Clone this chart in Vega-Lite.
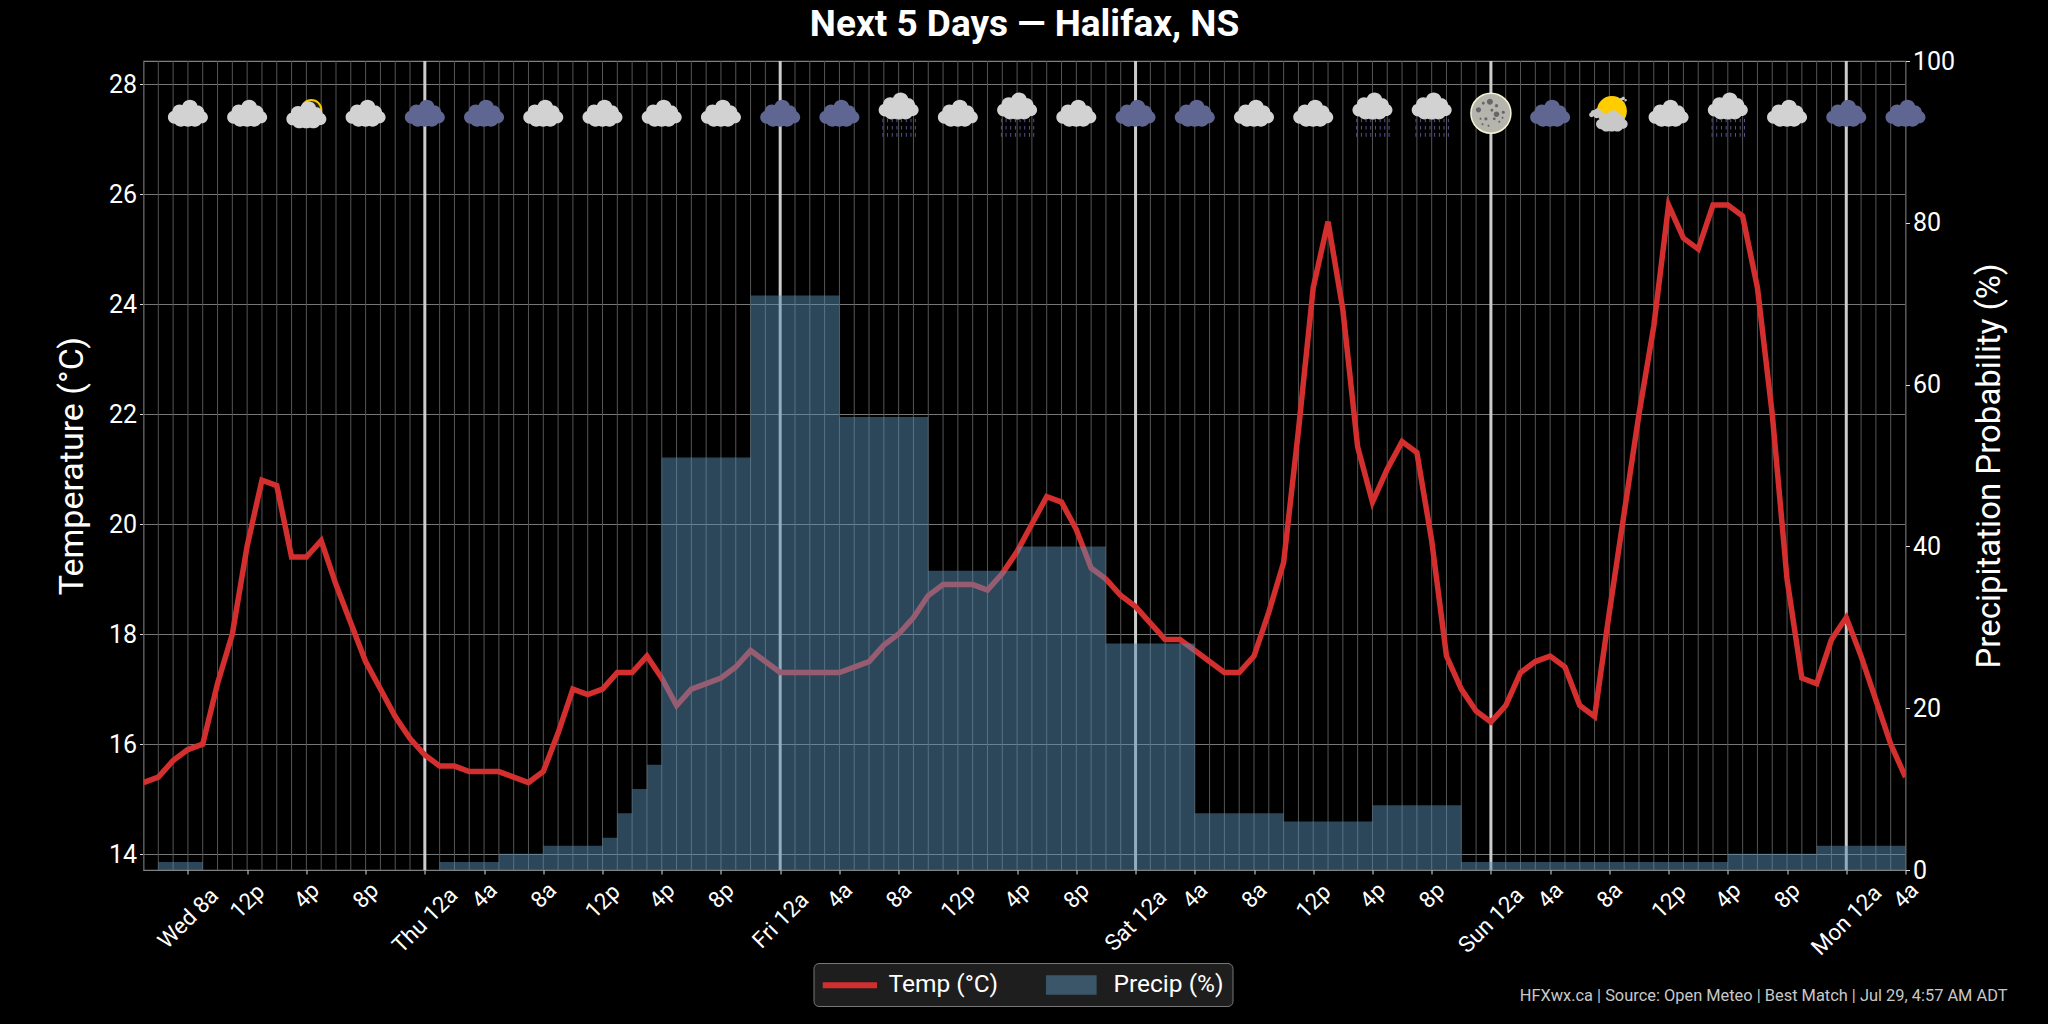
{
  "$schema": "https://vega.github.io/schema/vega-lite/v6.json",
  "description": "Five day hourly temperature and precipitation probability for Halifax, NS.",
  "autosize": {"type": "none"},
  "padding": {"left": 143.5, "top": 61, "right": 142.5, "bottom": 154},
  "width": 1762,
  "height": 809,
  "background": "#000000",
  "title": {"text": "Next 5 Days — Halifax, NS", "font": "Roboto", "fontSize": 37, "fontWeight": "bold", "color": "#ffffff", "anchor": "middle", "offset": 5},
  "datasets": {
    "hours": [
      {"t":"2026-07-29T05:00:00Z","temp":15.3,"precip":0},
      {"t":"2026-07-29T06:00:00Z","temp":15.4,"precip":1},
      {"t":"2026-07-29T07:00:00Z","temp":15.7,"precip":1},
      {"t":"2026-07-29T08:00:00Z","temp":15.9,"precip":1},
      {"t":"2026-07-29T09:00:00Z","temp":16.0,"precip":0},
      {"t":"2026-07-29T10:00:00Z","temp":17.1,"precip":0},
      {"t":"2026-07-29T11:00:00Z","temp":18.0,"precip":0},
      {"t":"2026-07-29T12:00:00Z","temp":19.6,"precip":0},
      {"t":"2026-07-29T13:00:00Z","temp":20.8,"precip":0},
      {"t":"2026-07-29T14:00:00Z","temp":20.7,"precip":0},
      {"t":"2026-07-29T15:00:00Z","temp":19.4,"precip":0},
      {"t":"2026-07-29T16:00:00Z","temp":19.4,"precip":0},
      {"t":"2026-07-29T17:00:00Z","temp":19.7,"precip":0},
      {"t":"2026-07-29T18:00:00Z","temp":18.9,"precip":0},
      {"t":"2026-07-29T19:00:00Z","temp":18.2,"precip":0},
      {"t":"2026-07-29T20:00:00Z","temp":17.5,"precip":0},
      {"t":"2026-07-29T21:00:00Z","temp":17.0,"precip":0},
      {"t":"2026-07-29T22:00:00Z","temp":16.5,"precip":0},
      {"t":"2026-07-29T23:00:00Z","temp":16.1,"precip":0},
      {"t":"2026-07-30T00:00:00Z","temp":15.8,"precip":0},
      {"t":"2026-07-30T01:00:00Z","temp":15.6,"precip":1},
      {"t":"2026-07-30T02:00:00Z","temp":15.6,"precip":1},
      {"t":"2026-07-30T03:00:00Z","temp":15.5,"precip":1},
      {"t":"2026-07-30T04:00:00Z","temp":15.5,"precip":1},
      {"t":"2026-07-30T05:00:00Z","temp":15.5,"precip":2},
      {"t":"2026-07-30T06:00:00Z","temp":15.4,"precip":2},
      {"t":"2026-07-30T07:00:00Z","temp":15.3,"precip":2},
      {"t":"2026-07-30T08:00:00Z","temp":15.5,"precip":3},
      {"t":"2026-07-30T09:00:00Z","temp":16.2,"precip":3},
      {"t":"2026-07-30T10:00:00Z","temp":17.0,"precip":3},
      {"t":"2026-07-30T11:00:00Z","temp":16.9,"precip":3},
      {"t":"2026-07-30T12:00:00Z","temp":17.0,"precip":4},
      {"t":"2026-07-30T13:00:00Z","temp":17.3,"precip":7},
      {"t":"2026-07-30T14:00:00Z","temp":17.3,"precip":10},
      {"t":"2026-07-30T15:00:00Z","temp":17.6,"precip":13},
      {"t":"2026-07-30T16:00:00Z","temp":17.2,"precip":51},
      {"t":"2026-07-30T17:00:00Z","temp":16.7,"precip":51},
      {"t":"2026-07-30T18:00:00Z","temp":17.0,"precip":51},
      {"t":"2026-07-30T19:00:00Z","temp":17.1,"precip":51},
      {"t":"2026-07-30T20:00:00Z","temp":17.2,"precip":51},
      {"t":"2026-07-30T21:00:00Z","temp":17.4,"precip":51},
      {"t":"2026-07-30T22:00:00Z","temp":17.7,"precip":71},
      {"t":"2026-07-30T23:00:00Z","temp":17.5,"precip":71},
      {"t":"2026-07-31T00:00:00Z","temp":17.3,"precip":71},
      {"t":"2026-07-31T01:00:00Z","temp":17.3,"precip":71},
      {"t":"2026-07-31T02:00:00Z","temp":17.3,"precip":71},
      {"t":"2026-07-31T03:00:00Z","temp":17.3,"precip":71},
      {"t":"2026-07-31T04:00:00Z","temp":17.3,"precip":56},
      {"t":"2026-07-31T05:00:00Z","temp":17.4,"precip":56},
      {"t":"2026-07-31T06:00:00Z","temp":17.5,"precip":56},
      {"t":"2026-07-31T07:00:00Z","temp":17.8,"precip":56},
      {"t":"2026-07-31T08:00:00Z","temp":18.0,"precip":56},
      {"t":"2026-07-31T09:00:00Z","temp":18.3,"precip":56},
      {"t":"2026-07-31T10:00:00Z","temp":18.7,"precip":37},
      {"t":"2026-07-31T11:00:00Z","temp":18.9,"precip":37},
      {"t":"2026-07-31T12:00:00Z","temp":18.9,"precip":37},
      {"t":"2026-07-31T13:00:00Z","temp":18.9,"precip":37},
      {"t":"2026-07-31T14:00:00Z","temp":18.8,"precip":37},
      {"t":"2026-07-31T15:00:00Z","temp":19.1,"precip":37},
      {"t":"2026-07-31T16:00:00Z","temp":19.5,"precip":40},
      {"t":"2026-07-31T17:00:00Z","temp":20.0,"precip":40},
      {"t":"2026-07-31T18:00:00Z","temp":20.5,"precip":40},
      {"t":"2026-07-31T19:00:00Z","temp":20.4,"precip":40},
      {"t":"2026-07-31T20:00:00Z","temp":19.9,"precip":40},
      {"t":"2026-07-31T21:00:00Z","temp":19.2,"precip":40},
      {"t":"2026-07-31T22:00:00Z","temp":19.0,"precip":28},
      {"t":"2026-07-31T23:00:00Z","temp":18.7,"precip":28},
      {"t":"2026-08-01T00:00:00Z","temp":18.5,"precip":28},
      {"t":"2026-08-01T01:00:00Z","temp":18.2,"precip":28},
      {"t":"2026-08-01T02:00:00Z","temp":17.9,"precip":28},
      {"t":"2026-08-01T03:00:00Z","temp":17.9,"precip":28},
      {"t":"2026-08-01T04:00:00Z","temp":17.7,"precip":7},
      {"t":"2026-08-01T05:00:00Z","temp":17.5,"precip":7},
      {"t":"2026-08-01T06:00:00Z","temp":17.3,"precip":7},
      {"t":"2026-08-01T07:00:00Z","temp":17.3,"precip":7},
      {"t":"2026-08-01T08:00:00Z","temp":17.6,"precip":7},
      {"t":"2026-08-01T09:00:00Z","temp":18.4,"precip":7},
      {"t":"2026-08-01T10:00:00Z","temp":19.3,"precip":6},
      {"t":"2026-08-01T11:00:00Z","temp":21.7,"precip":6},
      {"t":"2026-08-01T12:00:00Z","temp":24.3,"precip":6},
      {"t":"2026-08-01T13:00:00Z","temp":25.5,"precip":6},
      {"t":"2026-08-01T14:00:00Z","temp":23.9,"precip":6},
      {"t":"2026-08-01T15:00:00Z","temp":21.4,"precip":6},
      {"t":"2026-08-01T16:00:00Z","temp":20.4,"precip":8},
      {"t":"2026-08-01T17:00:00Z","temp":21.0,"precip":8},
      {"t":"2026-08-01T18:00:00Z","temp":21.5,"precip":8},
      {"t":"2026-08-01T19:00:00Z","temp":21.3,"precip":8},
      {"t":"2026-08-01T20:00:00Z","temp":19.7,"precip":8},
      {"t":"2026-08-01T21:00:00Z","temp":17.6,"precip":8},
      {"t":"2026-08-01T22:00:00Z","temp":17.0,"precip":1},
      {"t":"2026-08-01T23:00:00Z","temp":16.6,"precip":1},
      {"t":"2026-08-02T00:00:00Z","temp":16.4,"precip":1},
      {"t":"2026-08-02T01:00:00Z","temp":16.7,"precip":1},
      {"t":"2026-08-02T02:00:00Z","temp":17.3,"precip":1},
      {"t":"2026-08-02T03:00:00Z","temp":17.5,"precip":1},
      {"t":"2026-08-02T04:00:00Z","temp":17.6,"precip":1},
      {"t":"2026-08-02T05:00:00Z","temp":17.4,"precip":1},
      {"t":"2026-08-02T06:00:00Z","temp":16.7,"precip":1},
      {"t":"2026-08-02T07:00:00Z","temp":16.5,"precip":1},
      {"t":"2026-08-02T08:00:00Z","temp":18.4,"precip":1},
      {"t":"2026-08-02T09:00:00Z","temp":20.2,"precip":1},
      {"t":"2026-08-02T10:00:00Z","temp":22.0,"precip":1},
      {"t":"2026-08-02T11:00:00Z","temp":23.6,"precip":1},
      {"t":"2026-08-02T12:00:00Z","temp":25.8,"precip":1},
      {"t":"2026-08-02T13:00:00Z","temp":25.2,"precip":1},
      {"t":"2026-08-02T14:00:00Z","temp":25.0,"precip":1},
      {"t":"2026-08-02T15:00:00Z","temp":25.8,"precip":1},
      {"t":"2026-08-02T16:00:00Z","temp":25.8,"precip":2},
      {"t":"2026-08-02T17:00:00Z","temp":25.6,"precip":2},
      {"t":"2026-08-02T18:00:00Z","temp":24.3,"precip":2},
      {"t":"2026-08-02T19:00:00Z","temp":22.0,"precip":2},
      {"t":"2026-08-02T20:00:00Z","temp":19.0,"precip":2},
      {"t":"2026-08-02T21:00:00Z","temp":17.2,"precip":2},
      {"t":"2026-08-02T22:00:00Z","temp":17.1,"precip":3},
      {"t":"2026-08-02T23:00:00Z","temp":17.9,"precip":3},
      {"t":"2026-08-03T00:00:00Z","temp":18.3,"precip":3},
      {"t":"2026-08-03T01:00:00Z","temp":17.6,"precip":3},
      {"t":"2026-08-03T02:00:00Z","temp":16.8,"precip":3},
      {"t":"2026-08-03T03:00:00Z","temp":16.0,"precip":3},
      {"t":"2026-08-03T04:00:00Z","temp":15.4,"precip":3}
    ],
    "icons": [
      {"t":"2026-07-29T08:00:00Z","kind":"cloud"},
      {"t":"2026-07-29T12:00:00Z","kind":"cloud"},
      {"t":"2026-07-29T16:00:00Z","kind":"partly"},
      {"t":"2026-07-29T20:00:00Z","kind":"cloud"},
      {"t":"2026-07-30T00:00:00Z","kind":"night"},
      {"t":"2026-07-30T04:00:00Z","kind":"night"},
      {"t":"2026-07-30T08:00:00Z","kind":"cloud"},
      {"t":"2026-07-30T12:00:00Z","kind":"cloud"},
      {"t":"2026-07-30T16:00:00Z","kind":"cloud"},
      {"t":"2026-07-30T20:00:00Z","kind":"cloud"},
      {"t":"2026-07-31T00:00:00Z","kind":"night"},
      {"t":"2026-07-31T04:00:00Z","kind":"night"},
      {"t":"2026-07-31T08:00:00Z","kind":"rain"},
      {"t":"2026-07-31T12:00:00Z","kind":"cloud"},
      {"t":"2026-07-31T16:00:00Z","kind":"rain"},
      {"t":"2026-07-31T20:00:00Z","kind":"cloud"},
      {"t":"2026-08-01T00:00:00Z","kind":"night"},
      {"t":"2026-08-01T04:00:00Z","kind":"night"},
      {"t":"2026-08-01T08:00:00Z","kind":"cloud"},
      {"t":"2026-08-01T12:00:00Z","kind":"cloud"},
      {"t":"2026-08-01T16:00:00Z","kind":"rain"},
      {"t":"2026-08-01T20:00:00Z","kind":"rain"},
      {"t":"2026-08-02T00:00:00Z","kind":"moon"},
      {"t":"2026-08-02T04:00:00Z","kind":"night"},
      {"t":"2026-08-02T08:00:00Z","kind":"sunny"},
      {"t":"2026-08-02T12:00:00Z","kind":"cloud"},
      {"t":"2026-08-02T16:00:00Z","kind":"rain"},
      {"t":"2026-08-02T20:00:00Z","kind":"cloud"},
      {"t":"2026-08-03T00:00:00Z","kind":"night"},
      {"t":"2026-08-03T04:00:00Z","kind":"night"}
    ]
  },
  "data": {"name": "hours"},
  "encoding": {
    "x": {
      "field": "t",
      "type": "temporal",
      "scale": {
        "type": "utc",
        "nice": false,
        "domain": [
          {"year": 2026, "month": 7, "date": 29, "hours": 5, "utc": true},
          {"year": 2026, "month": 8, "date": 3, "hours": 4, "utc": true}
        ]
      },
      "axis": {
        "title": "HFXwx.ca | Source: Open Meteo | Best Match | Jul 29, 4:57 AM ADT",
        "titleFont": "Roboto",
        "titleFontSize": 16.4,
        "titleFontWeight": "normal",
        "titleColor": "#c8c8c8",
        "titleAlign": "right",
        "titleBaseline": "middle",
        "titleX": 1863.5,
        "titleY": 125,
        "grid": false,
        "domain": false,
        "tickColor": "#dddddd",
        "tickSize": 4,
        "values": [
          {"year":2026,"month":7,"date":29,"hours":8,"utc":true},{"year":2026,"month":7,"date":29,"hours":12,"utc":true},{"year":2026,"month":7,"date":29,"hours":16,"utc":true},{"year":2026,"month":7,"date":29,"hours":20,"utc":true},
          {"year":2026,"month":7,"date":30,"hours":0,"utc":true},{"year":2026,"month":7,"date":30,"hours":4,"utc":true},{"year":2026,"month":7,"date":30,"hours":8,"utc":true},{"year":2026,"month":7,"date":30,"hours":12,"utc":true},{"year":2026,"month":7,"date":30,"hours":16,"utc":true},{"year":2026,"month":7,"date":30,"hours":20,"utc":true},
          {"year":2026,"month":7,"date":31,"hours":0,"utc":true},{"year":2026,"month":7,"date":31,"hours":4,"utc":true},{"year":2026,"month":7,"date":31,"hours":8,"utc":true},{"year":2026,"month":7,"date":31,"hours":12,"utc":true},{"year":2026,"month":7,"date":31,"hours":16,"utc":true},{"year":2026,"month":7,"date":31,"hours":20,"utc":true},
          {"year":2026,"month":8,"date":1,"hours":0,"utc":true},{"year":2026,"month":8,"date":1,"hours":4,"utc":true},{"year":2026,"month":8,"date":1,"hours":8,"utc":true},{"year":2026,"month":8,"date":1,"hours":12,"utc":true},{"year":2026,"month":8,"date":1,"hours":16,"utc":true},{"year":2026,"month":8,"date":1,"hours":20,"utc":true},
          {"year":2026,"month":8,"date":2,"hours":0,"utc":true},{"year":2026,"month":8,"date":2,"hours":4,"utc":true},{"year":2026,"month":8,"date":2,"hours":8,"utc":true},{"year":2026,"month":8,"date":2,"hours":12,"utc":true},{"year":2026,"month":8,"date":2,"hours":16,"utc":true},{"year":2026,"month":8,"date":2,"hours":20,"utc":true},
          {"year":2026,"month":8,"date":3,"hours":0,"utc":true},{"year":2026,"month":8,"date":3,"hours":4,"utc":true}
        ],
        "labelFont": "Roboto",
        "labelFontSize": 22.5,
        "labelColor": "#ffffff",
        "labelAngle": -45,
        "labelAlign": "center",
        "labelBaseline": "middle",
        "labelOverlap": false,
        "labelFlush": false,
        "labelBound": false,
        "labelPadding": {
          "condition": [
            {"test": "utchours(datum.value)==0", "value": 46},
            {"test": "utcdate(datum.value)==29 && utchours(datum.value)==8", "value": 44},
            {"test": "utchours(datum.value)==12", "value": 27}
          ],
          "value": 21
        },
        "labelExpr": "(utchours(datum.value)==0 || (utcdate(datum.value)==29 && utchours(datum.value)==8) ? utcFormat(datum.value,'%a ') : '') + (utchours(datum.value)%12==0 ? 12 : utchours(datum.value)%12) + (utchours(datum.value)<12 ? 'a' : 'p')"
      }
    }
  },
  "layer": [
    {
      "mark": {"type": "rule", "color": "#555555", "strokeWidth": 1},
      "encoding": {}
    },
    {
      "transform": [{"filter": "utchours(datum.t)==0"}],
      "mark": {"type": "rule", "color": "#cccccc", "strokeWidth": 3},
      "encoding": {}
    },
    {
      "mark": {"type": "line", "strokeWidth": 5.5, "strokeJoin": "miter", "clip": true},
      "encoding": {
        "y": {
          "field": "temp",
          "type": "quantitative",
          "scale": {"domain": [13.71, 28.42], "nice": false, "zero": false},
          "axis": {
            "title": "Temperature (°C)",
            "titleFont": "Roboto",
            "titleFontSize": 34,
            "titleFontWeight": "normal",
            "titleColor": "#ffffff",
            "titleX": -71.5,
            "titleBaseline": "middle",
            "values": [14, 16, 18, 20, 22, 24, 26, 28],
            "grid": true,
            "gridColor": "#777777",
            "gridWidth": 1.2,
            "domain": false,
            "tickColor": "#dddddd",
            "tickSize": 4,
            "labelPadding": 3,
            "labelFont": "Roboto",
            "labelFontSize": 25,
            "labelColor": "#ffffff"
          }
        },
        "color": {
          "datum": "Temp (°C)",
          "type": "nominal",
          "scale": {"domain": ["Temp (°C)", "Precip (%)"], "range": ["#d32f2f", "#588cb4"]},
          "legend": {
            "title": null,
            "orient": "none",
            "legendX": 670,
            "legendY": 902,
            "direction": "horizontal",
            "columns": 2,
            "columnPadding": 45,
            "padding": 9,
            "fillColor": "#1e1e1e",
            "strokeColor": "#777777",
            "cornerRadius": 5,
            "symbolSize": 576,
            "labelFont": "Roboto",
            "labelFontSize": 24.5,
            "labelColor": "#ffffff",
            "labelOffset": 40,
            "labelLimit": 300,
            "encoding": {
              "symbols": {
                "shape": {"value": {"expr": "datum.value=='Temp (°C)' ? 'M-1,-0.18H3.4V0.18H-1Z' : 'M-1.15,-0.75H2.95V0.75H-1.15Z'"}},
                "stroke": {"value": "transparent"},
                "opacity": {"value": {"expr": "datum.value=='Temp (°C)' ? 1 : 0.5"}}
              }
            }
          }
        }
      }
    },
    {
      "mark": {"type": "area", "interpolate": "step-after", "opacity": 0.5},
      "encoding": {
        "y": {
          "field": "precip",
          "type": "quantitative",
          "scale": {"domain": [0, 100], "nice": false},
          "axis": {
            "orient": "right",
            "title": "Precipitation Probability (%)",
            "titleFont": "Roboto",
            "titleFontSize": 33,
            "titleFontWeight": "normal",
            "titleColor": "#ffffff",
            "titleX": 84,
            "titleAngle": -90,
            "titleBaseline": "middle",
            "values": [0, 20, 40, 60, 80, 100],
            "grid": false,
            "domain": false,
            "tickColor": "#dddddd",
            "tickSize": 4,
            "labelPadding": 3,
            "labelFont": "Roboto",
            "labelFontSize": 25,
            "labelColor": "#ffffff"
          }
        },
        "color": {"datum": "Precip (%)", "type": "nominal"}
      }
    },
    {
      "data": {"name": "icons"},
      "layer": [
        {
          "transform": [{"filter": "datum.kind=='cloud'"}],
          "mark": {"type": "point", "filled": true, "opacity": 1, "size": 1600, "color": "#d2d2d2", "shape": "M-0.3,-0.28A0.4,0.4,0,1,1,0.5,-0.28A0.4,0.4,0,1,1,-0.3,-0.28ZM-0.78,-0.08A0.36,0.36,0,1,1,-0.06,-0.08A0.36,0.36,0,1,1,-0.78,-0.08ZM-1,0.2A0.32,0.32,0,1,1,-0.36,0.2A0.32,0.32,0,1,1,-1,0.2ZM0.4,0.2A0.3,0.3,0,1,1,1,0.2A0.3,0.3,0,1,1,0.4,0.2ZM0.07,-0.02A0.38,0.38,0,1,1,0.83,-0.02A0.38,0.38,0,1,1,0.07,-0.02ZM-0.43,0.24A0.43,0.43,0,1,1,0.43,0.24A0.43,0.43,0,1,1,-0.43,0.24ZM-0.72,0.3A0.37,0.37,0,1,1,0.02,0.3A0.37,0.37,0,1,1,-0.72,0.3ZM-0.02,0.3A0.37,0.37,0,1,1,0.72,0.3A0.37,0.37,0,1,1,-0.02,0.3Z"},
          "encoding": {"y": {"datum": 27.47, "type": "quantitative", "scale": {"domain": [13.71, 28.42], "nice": false, "zero": false}, "axis": null}}
        },
        {
          "transform": [{"filter": "datum.kind=='night'"}],
          "mark": {"type": "point", "filled": true, "opacity": 1, "size": 1600, "color": "#5f6691", "shape": "M-0.3,-0.28A0.4,0.4,0,1,1,0.5,-0.28A0.4,0.4,0,1,1,-0.3,-0.28ZM-0.78,-0.08A0.36,0.36,0,1,1,-0.06,-0.08A0.36,0.36,0,1,1,-0.78,-0.08ZM-1,0.2A0.32,0.32,0,1,1,-0.36,0.2A0.32,0.32,0,1,1,-1,0.2ZM0.4,0.2A0.3,0.3,0,1,1,1,0.2A0.3,0.3,0,1,1,0.4,0.2ZM0.07,-0.02A0.38,0.38,0,1,1,0.83,-0.02A0.38,0.38,0,1,1,0.07,-0.02ZM-0.43,0.24A0.43,0.43,0,1,1,0.43,0.24A0.43,0.43,0,1,1,-0.43,0.24ZM-0.72,0.3A0.37,0.37,0,1,1,0.02,0.3A0.37,0.37,0,1,1,-0.72,0.3ZM-0.02,0.3A0.37,0.37,0,1,1,0.72,0.3A0.37,0.37,0,1,1,-0.02,0.3Z"},
          "encoding": {"y": {"datum": 27.47, "type": "quantitative", "scale": {"domain": [13.71, 28.42], "nice": false, "zero": false}, "axis": null}}
        },
        {
          "transform": [{"filter": "datum.kind=='rain'"}],
          "mark": {"type": "point", "filled": true, "opacity": 1, "size": 1600, "color": "#d2d2d2", "shape": "M-0.3,-0.28A0.4,0.4,0,1,1,0.5,-0.28A0.4,0.4,0,1,1,-0.3,-0.28ZM-0.78,-0.08A0.36,0.36,0,1,1,-0.06,-0.08A0.36,0.36,0,1,1,-0.78,-0.08ZM-1,0.2A0.32,0.32,0,1,1,-0.36,0.2A0.32,0.32,0,1,1,-1,0.2ZM0.4,0.2A0.3,0.3,0,1,1,1,0.2A0.3,0.3,0,1,1,0.4,0.2ZM0.07,-0.02A0.38,0.38,0,1,1,0.83,-0.02A0.38,0.38,0,1,1,0.07,-0.02ZM-0.43,0.24A0.43,0.43,0,1,1,0.43,0.24A0.43,0.43,0,1,1,-0.43,0.24ZM-0.72,0.3A0.37,0.37,0,1,1,0.02,0.3A0.37,0.37,0,1,1,-0.72,0.3ZM-0.02,0.3A0.37,0.37,0,1,1,0.72,0.3A0.37,0.37,0,1,1,-0.02,0.3Z"},
          "encoding": {"y": {"datum": 27.6, "type": "quantitative", "scale": {"domain": [13.71, 28.42], "nice": false, "zero": false}, "axis": null}}
        },
        {
          "transform": [{"filter": "datum.kind=='rain'"}],
          "mark": {"type": "point", "filled": true, "opacity": 1, "size": 1296, "color": "#5a5a9a", "shape": "M-0.9,-0.4h0.05v0.2h-0.05zM-0.64,-0.4h0.05v0.2h-0.05zM-0.38,-0.4h0.05v0.2h-0.05zM-0.12,-0.4h0.05v0.2h-0.05zM0.14,-0.4h0.05v0.2h-0.05zM0.4,-0.4h0.05v0.2h-0.05zM0.66,-0.4h0.05v0.2h-0.05zM0.9,-0.4h0.05v0.2h-0.05zM-0.9,0h0.05v0.2h-0.05zM-0.64,0h0.05v0.2h-0.05zM-0.38,0h0.05v0.2h-0.05zM-0.12,0h0.05v0.2h-0.05zM0.14,0h0.05v0.2h-0.05zM0.4,0h0.05v0.2h-0.05zM0.66,0h0.05v0.2h-0.05zM0.9,0h0.05v0.2h-0.05zM-0.9,0.4h0.05v0.2h-0.05zM-0.64,0.4h0.05v0.2h-0.05zM-0.38,0.4h0.05v0.2h-0.05zM-0.12,0.4h0.05v0.2h-0.05zM0.14,0.4h0.05v0.2h-0.05zM0.4,0.4h0.05v0.2h-0.05zM0.66,0.4h0.05v0.2h-0.05zM0.9,0.4h0.05v0.2h-0.05z"},
          "encoding": {"y": {"datum": 27.24, "type": "quantitative", "scale": {"domain": [13.71, 28.42], "nice": false, "zero": false}, "axis": null}}
        },
        {
          "transform": [{"filter": "datum.kind=='partly'"}],
          "mark": {"type": "point", "filled": false, "opacity": 1, "size": 400, "shape": "circle", "stroke": "#f5c800", "strokeWidth": 2, "fill": "#222222", "xOffset": 5},
          "encoding": {"y": {"datum": 27.53, "type": "quantitative", "scale": {"domain": [13.71, 28.42], "nice": false, "zero": false}, "axis": null}}
        },
        {
          "transform": [{"filter": "datum.kind=='partly'"}],
          "mark": {"type": "point", "filled": true, "opacity": 1, "size": 1600, "color": "#d2d2d2", "shape": "M-0.3,-0.28A0.4,0.4,0,1,1,0.5,-0.28A0.4,0.4,0,1,1,-0.3,-0.28ZM-0.78,-0.08A0.36,0.36,0,1,1,-0.06,-0.08A0.36,0.36,0,1,1,-0.78,-0.08ZM-1,0.2A0.32,0.32,0,1,1,-0.36,0.2A0.32,0.32,0,1,1,-1,0.2ZM0.4,0.2A0.3,0.3,0,1,1,1,0.2A0.3,0.3,0,1,1,0.4,0.2ZM0.07,-0.02A0.38,0.38,0,1,1,0.83,-0.02A0.38,0.38,0,1,1,0.07,-0.02ZM-0.43,0.24A0.43,0.43,0,1,1,0.43,0.24A0.43,0.43,0,1,1,-0.43,0.24ZM-0.72,0.3A0.37,0.37,0,1,1,0.02,0.3A0.37,0.37,0,1,1,-0.72,0.3ZM-0.02,0.3A0.37,0.37,0,1,1,0.72,0.3A0.37,0.37,0,1,1,-0.02,0.3Z"},
          "encoding": {"y": {"datum": 27.44, "type": "quantitative", "scale": {"domain": [13.71, 28.42], "nice": false, "zero": false}, "axis": null}}
        },
        {
          "transform": [{"filter": "datum.kind=='moon'"}],
          "mark": {"type": "point", "filled": false, "opacity": 1, "size": 1600, "shape": "circle", "fill": "#b5b5ae", "stroke": "#f5f5d0", "strokeWidth": 1.5},
          "encoding": {"y": {"datum": 27.47, "type": "quantitative", "scale": {"domain": [13.71, 28.42], "nice": false, "zero": false}, "axis": null}}
        },
        {
          "transform": [{"filter": "datum.kind=='moon'"}],
          "mark": {"type": "point", "filled": true, "opacity": 1, "size": 1600, "color": "#666666", "shape": "M-0.75,-0.17A0.13,0.13,0,1,1,-0.49,-0.17A0.13,0.13,0,1,1,-0.75,-0.17ZM-0.2,-0.58A0.15,0.15,0,1,1,0.1,-0.58A0.15,0.15,0,1,1,-0.2,-0.58ZM0.2,-0.38A0.08,0.08,0,1,1,0.36,-0.38A0.08,0.08,0,1,1,0.2,-0.38ZM-0.45,-0.5A0.07,0.07,0,1,1,-0.31,-0.5A0.07,0.07,0,1,1,-0.45,-0.5ZM0.14,0.05A0.14,0.14,0,1,1,0.42,0.05A0.14,0.14,0,1,1,0.14,0.05ZM0.54,-0.05A0.08,0.08,0,1,1,0.7,-0.05A0.08,0.08,0,1,1,0.54,-0.05ZM-0.33,0.28A0.08,0.08,0,1,1,-0.17,0.28A0.08,0.08,0,1,1,-0.33,0.28ZM-0.02,-0.15A0.07,0.07,0,1,1,0.12,-0.15A0.07,0.07,0,1,1,-0.02,-0.15ZM-0.57,0.28A0.05,0.05,0,1,1,-0.47,0.28A0.05,0.05,0,1,1,-0.57,0.28ZM0.1,0.28A0.07,0.07,0,1,1,0.24,0.28A0.07,0.07,0,1,1,0.1,0.28ZM0.37,0.42A0.05,0.05,0,1,1,0.47,0.42A0.05,0.05,0,1,1,0.37,0.42ZM0.53,0.22A0.05,0.05,0,1,1,0.63,0.22A0.05,0.05,0,1,1,0.53,0.22ZM-0.17,0.62A0.05,0.05,0,1,1,-0.07,0.62A0.05,0.05,0,1,1,-0.17,0.62ZM-0.47,0.55A0.05,0.05,0,1,1,-0.37,0.55A0.05,0.05,0,1,1,-0.47,0.55Z"},
          "encoding": {"y": {"datum": 27.47, "type": "quantitative", "scale": {"domain": [13.71, 28.42], "nice": false, "zero": false}, "axis": null}}
        },
        {
          "transform": [{"filter": "datum.kind=='sunny'"}],
          "mark": {"type": "point", "filled": true, "opacity": 1, "size": 900, "shape": "circle", "color": "#ffcc00", "xOffset": 2.5},
          "encoding": {"y": {"datum": 27.51, "type": "quantitative", "scale": {"domain": [13.71, 28.42], "nice": false, "zero": false}, "axis": null}}
        },
        {
          "transform": [{"filter": "datum.kind=='sunny'"}],
          "mark": {"type": "point", "filled": true, "opacity": 1, "size": 225, "color": "#c8c8c8", "xOffset": -12.7, "shape": "M-0.3,-0.28A0.4,0.4,0,1,1,0.5,-0.28A0.4,0.4,0,1,1,-0.3,-0.28ZM-0.78,-0.08A0.36,0.36,0,1,1,-0.06,-0.08A0.36,0.36,0,1,1,-0.78,-0.08ZM-1,0.2A0.32,0.32,0,1,1,-0.36,0.2A0.32,0.32,0,1,1,-1,0.2ZM0.4,0.2A0.3,0.3,0,1,1,1,0.2A0.3,0.3,0,1,1,0.4,0.2ZM0.07,-0.02A0.38,0.38,0,1,1,0.83,-0.02A0.38,0.38,0,1,1,0.07,-0.02ZM-0.43,0.24A0.43,0.43,0,1,1,0.43,0.24A0.43,0.43,0,1,1,-0.43,0.24Z"},
          "encoding": {"y": {"datum": 27.47, "type": "quantitative", "scale": {"domain": [13.71, 28.42], "nice": false, "zero": false}, "axis": null}}
        },
        {
          "transform": [{"filter": "datum.kind=='sunny'"}],
          "mark": {"type": "point", "filled": true, "opacity": 1, "size": 60, "color": "#c8c8c8", "xOffset": 13.6, "shape": "M-0.3,-0.28A0.4,0.4,0,1,1,0.5,-0.28A0.4,0.4,0,1,1,-0.3,-0.28ZM-0.78,-0.08A0.36,0.36,0,1,1,-0.06,-0.08A0.36,0.36,0,1,1,-0.78,-0.08ZM0.4,0.2A0.3,0.3,0,1,1,1,0.2A0.3,0.3,0,1,1,0.4,0.2Z"},
          "encoding": {"y": {"datum": 27.72, "type": "quantitative", "scale": {"domain": [13.71, 28.42], "nice": false, "zero": false}, "axis": null}}
        },
        {
          "transform": [{"filter": "datum.kind=='sunny'"}],
          "mark": {"type": "point", "filled": true, "opacity": 1, "size": 1000, "color": "#c8c8c8", "xOffset": 2.5, "shape": "M-0.3,-0.28A0.4,0.4,0,1,1,0.5,-0.28A0.4,0.4,0,1,1,-0.3,-0.28ZM-0.78,-0.08A0.36,0.36,0,1,1,-0.06,-0.08A0.36,0.36,0,1,1,-0.78,-0.08ZM-1,0.2A0.32,0.32,0,1,1,-0.36,0.2A0.32,0.32,0,1,1,-1,0.2ZM0.4,0.2A0.3,0.3,0,1,1,1,0.2A0.3,0.3,0,1,1,0.4,0.2ZM0.07,-0.02A0.38,0.38,0,1,1,0.83,-0.02A0.38,0.38,0,1,1,0.07,-0.02ZM-0.43,0.24A0.43,0.43,0,1,1,0.43,0.24A0.43,0.43,0,1,1,-0.43,0.24ZM-0.72,0.3A0.37,0.37,0,1,1,0.02,0.3A0.37,0.37,0,1,1,-0.72,0.3ZM-0.02,0.3A0.37,0.37,0,1,1,0.72,0.3A0.37,0.37,0,1,1,-0.02,0.3Z"},
          "encoding": {"y": {"datum": 27.33, "type": "quantitative", "scale": {"domain": [13.71, 28.42], "nice": false, "zero": false}, "axis": null}}
        }
      ]
    }
  ],
  "resolve": {"scale": {"y": "independent"}},
  "config": {
    "font": "Roboto",
    "view": {"stroke": "#808080", "strokeWidth": 1.2}
  }
}
